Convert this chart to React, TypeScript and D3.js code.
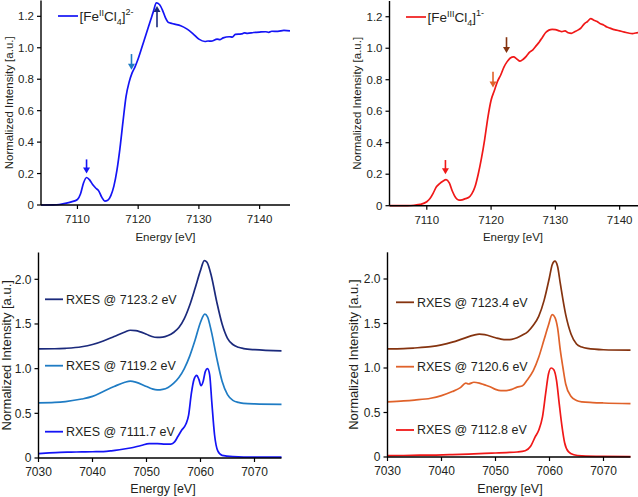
import React from "react";
import * as d3 from "d3";

// ---------- DATA ----------
// Top-left: Fe(II)Cl4 2- XAS  [energy eV, normalized intensity]
const feIIXas: [number, number][] = [
  [7104, 0], [7106, 0.001], [7107, 0.003], [7108, 0.01], [7109, 0.02], [7110, 0.035],
  [7110.5, 0.07], [7111, 0.14], [7111.5, 0.175], [7112, 0.16], [7112.5, 0.13],
  [7113, 0.108], [7113.5, 0.09], [7114, 0.05], [7114.5, 0.025], [7115, 0.03],
  [7115.5, 0.06], [7116, 0.12], [7116.5, 0.22], [7117, 0.36], [7117.5, 0.53],
  [7118, 0.69], [7118.5, 0.78], [7119, 0.84], [7119.5, 0.88], [7120, 0.93],
  [7121, 1.05], [7122, 1.17], [7122.5, 1.23], [7123, 1.285], [7123.5, 1.275],
  [7124, 1.24], [7124.5, 1.19], [7125, 1.16], [7125.5, 1.155], [7126, 1.15],
  [7127, 1.14], [7128, 1.12], [7129, 1.09], [7130, 1.055], [7131, 1.04],
  [7131.5, 1.043], [7132, 1.042], [7133, 1.055], [7133.5, 1.052], [7134, 1.063],
  [7135, 1.07], [7135.5, 1.068], [7136, 1.085], [7137, 1.088], [7137.5, 1.095],
  [7138, 1.092], [7139, 1.097], [7140, 1.1], [7141, 1.102], [7141.5, 1.098],
  [7142, 1.105], [7143, 1.104], [7144, 1.11], [7145, 1.108],
];

// Top-right: Fe(III)Cl4 1- XAS
const feIIIXas: [number, number][] = [
  [7104.2, 0], [7107, 0.001], [7108, 0.003], [7109, 0.008], [7110, 0.025],
  [7110.5, 0.045], [7111, 0.08], [7111.5, 0.12], [7112, 0.14], [7112.5, 0.155],
  [7113, 0.165], [7113.5, 0.145], [7114, 0.09], [7114.5, 0.05], [7115, 0.035],
  [7115.5, 0.037], [7116, 0.045], [7116.5, 0.052], [7117, 0.075], [7117.5, 0.12],
  [7118, 0.2], [7118.5, 0.3], [7119, 0.42], [7119.5, 0.56], [7120, 0.67],
  [7120.5, 0.73], [7121, 0.79], [7121.5, 0.83], [7122, 0.88], [7122.5, 0.915],
  [7123, 0.938], [7123.5, 0.945], [7124, 0.932], [7124.5, 0.918], [7125, 0.93],
  [7125.5, 0.95], [7126, 0.975], [7126.5, 0.99], [7127, 1.015], [7127.5, 1.04],
  [7128, 1.07], [7128.5, 1.1], [7129, 1.115], [7129.5, 1.12], [7130, 1.118],
  [7130.5, 1.112], [7131, 1.105], [7131.5, 1.11], [7132, 1.098], [7132.5, 1.095],
  [7133, 1.105], [7133.5, 1.115], [7134, 1.13], [7134.5, 1.155], [7135, 1.17],
  [7135.5, 1.188], [7136, 1.178], [7136.5, 1.17], [7137, 1.155], [7137.5, 1.148],
  [7138, 1.135], [7138.5, 1.128], [7139, 1.12], [7139.5, 1.115], [7140, 1.11],
  [7140.5, 1.105], [7141, 1.1], [7141.5, 1.095], [7142, 1.093], [7142.5, 1.097],
  [7143, 1.1], [7143.5, 1.096], [7144, 1.1], [7145, 1.1],
];

// Bottom-left RXES (Fe II)
const rxesII_7123_2: [number, number][] = [
  [7030, 1.222], [7033, 1.223], [7035, 1.228], [7038, 1.245], [7040, 1.27],
  [7042, 1.31], [7044, 1.36], [7046, 1.41], [7047, 1.43], [7048, 1.425],
  [7050, 1.385], [7051, 1.36], [7052, 1.35], [7053, 1.352], [7054, 1.37],
  [7055, 1.405], [7056, 1.46], [7057, 1.56], [7058, 1.71], [7059, 1.9],
  [7060, 2.1], [7060.7, 2.21], [7061.2, 2.19], [7062, 2.04], [7063, 1.75],
  [7064, 1.5], [7065, 1.34], [7066, 1.27], [7067, 1.24], [7068, 1.225],
  [7070, 1.212], [7075, 1.2],
];
const rxesII_7119_2: [number, number][] = [
  [7030, 0.617], [7033, 0.622], [7035, 0.632], [7038, 0.66], [7040, 0.69],
  [7042, 0.745], [7044, 0.8], [7046, 0.848], [7047, 0.86], [7048, 0.85],
  [7050, 0.8], [7051, 0.775], [7052, 0.762], [7053, 0.768], [7054, 0.79],
  [7055, 0.835], [7056, 0.9], [7057, 1.0], [7058, 1.14], [7059, 1.32],
  [7060, 1.52], [7060.8, 1.61], [7061.3, 1.58], [7062, 1.42], [7063, 1.12],
  [7064, 0.86], [7065, 0.71], [7066, 0.645], [7067, 0.622], [7068, 0.612],
  [7070, 0.605], [7075, 0.6],
];
const rxesII_7111_7: [number, number][] = [
  [7030, 0.05], [7032, 0.058], [7034, 0.064], [7036, 0.066], [7038, 0.068],
  [7040, 0.07], [7042, 0.072], [7043.5, 0.08], [7045, 0.092], [7047, 0.112],
  [7049, 0.14], [7050.5, 0.16], [7052, 0.162], [7053.5, 0.156], [7054.5, 0.156],
  [7055.2, 0.18], [7055.8, 0.24], [7056.5, 0.31], [7057.3, 0.38], [7057.8, 0.48],
  [7058.3, 0.72], [7058.8, 0.88], [7059.3, 0.925], [7059.7, 0.88], [7060.1, 0.81],
  [7060.5, 0.86], [7060.9, 0.97], [7061.3, 1.0], [7061.7, 0.93], [7062.1, 0.62],
  [7062.6, 0.26], [7063.2, 0.08], [7064, 0.03], [7066, 0.016], [7070, 0.01],
  [7075, 0.01],
];

// Bottom-right RXES (Fe III)
const rxesIII_7123_4: [number, number][] = [
  [7030, 1.215], [7033, 1.218], [7035, 1.225], [7038, 1.24], [7040, 1.26],
  [7042, 1.29], [7044, 1.33], [7046, 1.37], [7047, 1.38], [7048, 1.375],
  [7050, 1.34], [7051, 1.325], [7052, 1.318], [7053, 1.322], [7054, 1.34],
  [7055, 1.37], [7056, 1.41], [7057, 1.48], [7058, 1.58], [7059, 1.76],
  [7060, 2.02], [7060.5, 2.16], [7061, 2.2], [7061.5, 2.14], [7062, 1.95],
  [7063, 1.6], [7064, 1.38], [7065, 1.27], [7066, 1.235], [7067, 1.22],
  [7070, 1.205], [7075, 1.2],
];
const rxesIII_7120_6: [number, number][] = [
  [7030, 0.62], [7033, 0.63], [7035, 0.64], [7038, 0.66], [7040, 0.69],
  [7042, 0.735], [7043.5, 0.78], [7044.5, 0.83], [7045, 0.82], [7046, 0.84],
  [7047, 0.83], [7048, 0.81], [7049, 0.79], [7050, 0.76], [7051, 0.745],
  [7052, 0.745], [7053, 0.76], [7054, 0.785], [7055, 0.8], [7055.8, 0.86],
  [7057, 0.97], [7058, 1.12], [7059, 1.32], [7059.8, 1.48], [7060.5, 1.6],
  [7061, 1.57], [7061.5, 1.45], [7062, 1.2], [7062.5, 1.0], [7063, 0.82],
  [7064, 0.68], [7065, 0.635], [7066, 0.62], [7068, 0.612], [7070, 0.607],
  [7075, 0.6],
];
const rxesIII_7112_8: [number, number][] = [
  [7030, 0.015], [7033, 0.017], [7036, 0.02], [7039, 0.022], [7042, 0.027],
  [7045, 0.033], [7048, 0.04], [7050, 0.045], [7052, 0.05], [7054, 0.056],
  [7055.5, 0.07], [7056.5, 0.12], [7057.3, 0.22], [7058, 0.3], [7058.7, 0.45],
  [7059.3, 0.72], [7059.8, 0.93], [7060.3, 1.0], [7060.8, 0.98], [7061.3, 0.86],
  [7061.8, 0.6], [7062.3, 0.35], [7062.8, 0.16], [7063.5, 0.06], [7064.5, 0.025],
  [7066, 0.012], [7070, 0.006], [7075, 0.004],
];

// Arrows: [energy, tailValue, headValue, colour]
const feIIArrows: [number, number, number, string][] = [
  [7111.5, 0.29, 0.2, "#1414f5"],
  [7118.9, 0.96, 0.86, "#1f7cc4"],
  [7123.1, 1.13, 1.265, "#1b2a7c"],
];
const feIIIArrows: [number, number, number, string][] = [
  [7112.9, 0.29, 0.2, "#f01818"],
  [7120.3, 0.85, 0.75, "#e0622a"],
  [7122.4, 1.07, 0.97, "#85330f"],
];

const xasYTicks = [0, 0.2, 0.4, 0.6, 0.8, 1.0, 1.2];
const xasXTicks = [7110, 7120, 7130, 7140];
const rxesYTicks = [0, 0.5, 1.0, 1.5, 2.0];
const rxesXTicks = [7030, 7040, 7050, 7060, 7070];

const rxesIILabels = ["RXES @ 7123.2 eV", "RXES @ 7119.2 eV", "RXES @ 7111.7 eV"];
const rxesIIILabels = ["RXES @ 7123.4 eV", "RXES @ 7120.6 eV", "RXES @ 7112.8 eV"];

const FONT = "'Liberation Sans', Arial, Helvetica, sans-serif";
const TXT = "#231f20";

type Series = { data: [number, number][]; color: string };

interface PanelProps {
  xDomain: [number, number];
  xRange: [number, number];
  yDomain: [number, number];
  yRange: [number, number];
  xTicks: number[];
  yTicks: number[];
  series: Series[];
  yTitleX: number;
  xTitleX: number;
  xTitleY: number;
  titleSize: number;
  yTitleSize: number;
  tickSize: number;
  arrows?: [number, number, number, string][];
  children?: React.ReactNode;
}

const fmtY = (v: number) => (v === 0 ? "0" : v.toFixed(1));

function Panel(p: PanelProps) {
  const x = d3.scaleLinear().domain(p.xDomain).range(p.xRange);
  const y = d3.scaleLinear().domain(p.yDomain).range(p.yRange);
  const line = d3
    .line<[number, number]>()
    .x((d) => x(d[0]))
    .y((d) => y(d[1]))
    .curve(d3.curveMonotoneX);
  const x0 = p.xRange[0];
  const y0 = y(0);
  const yTop = p.yRange[1];
  const xEnd = p.xRange[1];
  const tl = 4;
  return (
    <g>
      {p.series.map((s, i) => (
        <path key={i} d={line(s.data) || ""} fill="none" stroke={s.color} strokeWidth={1.7} strokeLinejoin="round" />
      ))}
      {(p.arrows || []).map((a, i) => {
        const ax = x(a[0]);
        const t = y(a[1]);
        const h = y(a[2]);
        const dir = h > t ? 1 : -1;
        const hl = 6;
        return (
          <g key={i}>
            <line x1={ax} x2={ax} y1={t} y2={h - dir * hl * 0.6} stroke={a[3]} strokeWidth={1.6} />
            <path d={`M${ax - 3.5},${h - dir * hl} L${ax + 3.5},${h - dir * hl} L${ax},${h} Z`} fill={a[3]} />
          </g>
        );
      })}
      <line x1={x0} x2={x0} y1={yTop} y2={y0} stroke="#000" strokeWidth={1.4} />
      <line x1={x0} x2={xEnd} y1={y0} y2={y0} stroke="#000" strokeWidth={1.4} />
      {p.yTicks.map((t) => (
        <g key={"y" + t}>
          <line x1={x0 - tl} x2={x0} y1={y(t)} y2={y(t)} stroke="#000" strokeWidth={1.2} />
          <text x={x0 - 7} y={y(t)} dy="0.35em" textAnchor="end" fontSize={p.tickSize} fill={TXT} fontFamily={FONT}>
            {fmtY(t)}
          </text>
        </g>
      ))}
      {p.xTicks.map((t) => (
        <g key={"x" + t}>
          <line x1={x(t)} x2={x(t)} y1={y0} y2={y0 + tl} stroke="#000" strokeWidth={1.2} />
          <text x={x(t)} y={y0 + 18} textAnchor="middle" fontSize={p.tickSize} fill={TXT} fontFamily={FONT}>
            {t}
          </text>
        </g>
      ))}
      <text x={p.xTitleX} y={p.xTitleY} textAnchor="middle" fontSize={p.titleSize} fill={TXT} fontFamily={FONT}>
        Energy [eV]
      </text>
      <text
        transform={`translate(${p.yTitleX},${(yTop + y0) / 2}) rotate(-90)`}
        textAnchor="middle"
        dy="0.35em"
        fontSize={p.yTitleSize}
        fill={TXT}
        fontFamily={FONT}
      >
        Normalized Intensity [a.u.]
      </text>
      {p.children}
    </g>
  );
}

function XasLegend({ x, y, color, ox, charge }: { x: number; y: number; color: string; ox: string; charge: string }) {
  return (
    <g>
      <line x1={x} x2={x + 20} y1={y} y2={y} stroke={color} strokeWidth={1.7} />
      <text x={x + 21.5} y={y} dy="0.38em" fontSize={13.5} fill={TXT} fontFamily={FONT}>
        <tspan>[Fe</tspan>
        <tspan fontSize={9} dy={-5.5}>{ox}</tspan>
        <tspan dy={5.5}>Cl</tspan>
        <tspan fontSize={9} dy={4}>4</tspan>
        <tspan dy={-4}>]</tspan>
        <tspan fontSize={9} dy={-6}>{charge}</tspan>
      </text>
    </g>
  );
}

function RxesLegend({ x, ys, colors, labels }: { x: number; ys: number[]; colors: string[]; labels: string[] }) {
  return (
    <g>
      {labels.map((l, i) => (
        <g key={i}>
          <line x1={x} x2={x + 18} y1={ys[i]} y2={ys[i]} stroke={colors[i]} strokeWidth={1.8} />
          <text x={x + 21} y={ys[i]} dy="0.35em" fontSize={12.5} fill={TXT} fontFamily={FONT}>
            {l}
          </text>
        </g>
      ))}
    </g>
  );
}

export default function App() {
  const blue = "#1414f5";
  const midBlue = "#1f7cc4";
  const navy = "#1b2a7c";
  const red = "#f01818";
  const orange = "#e0622a";
  const brown = "#85330f";
  return (
    <svg
      width={638}
      height={497}
      viewBox="0 0 638 497"
      style={{ position: "absolute", left: 0, top: 0, background: "#fff", overflow: "hidden" }}
    >
      <Panel
        xDomain={[7104, 7145]}
        xRange={[41, 290]}
        yDomain={[0, 1.3]}
        yRange={[205, 0.6]}
        xTicks={xasXTicks}
        yTicks={xasYTicks}
        series={[{ data: feIIXas, color: blue }]}
        yTitleX={9}
        xTitleX={165.5}
        xTitleY={241}
        titleSize={11.5}
        yTitleSize={11.5}
        tickSize={11.5}
        arrows={feIIArrows}
      >
        <XasLegend x={58} y={16} color={blue} ox="II" charge="2-" />
      </Panel>
      <Panel
        xDomain={[7104.2, 7145]}
        xRange={[389.5, 651.8]}
        yDomain={[0, 1.3]}
        yRange={[205.7, 1]}
        xTicks={xasXTicks}
        yTicks={xasYTicks}
        series={[{ data: feIIIXas, color: red }]}
        yTitleX={357}
        xTitleX={513}
        xTitleY={241}
        titleSize={11.5}
        yTitleSize={11.5}
        tickSize={11.5}
        arrows={feIIIArrows}
      >
        <XasLegend x={406} y={17} color={red} ox="III" charge="1-" />
      </Panel>
      <Panel
        xDomain={[7030, 7075]}
        xRange={[38.5, 281.5]}
        yDomain={[0, 2.3]}
        yRange={[458, 252.5]}
        xTicks={rxesXTicks}
        yTicks={rxesYTicks}
        series={[
          { data: rxesII_7123_2, color: navy },
          { data: rxesII_7119_2, color: midBlue },
          { data: rxesII_7111_7, color: blue },
        ]}
        yTitleX={6}
        xTitleX={163}
        xTitleY={493}
        titleSize={12.5}
        yTitleSize={13}
        tickSize={12}
      >
        <RxesLegend x={45} ys={[299.3, 365.7, 431.7]} colors={[navy, midBlue, blue]} labels={rxesIILabels} />
      </Panel>
      <Panel
        xDomain={[7030, 7075]}
        xRange={[387.5, 630.5]}
        yDomain={[0, 2.3]}
        yRange={[457, 252.3]}
        xTicks={rxesXTicks}
        yTicks={rxesYTicks}
        series={[
          { data: rxesIII_7123_4, color: brown },
          { data: rxesIII_7120_6, color: orange },
          { data: rxesIII_7112_8, color: red },
        ]}
        yTitleX={353}
        xTitleX={510}
        xTitleY={493}
        titleSize={12.5}
        yTitleSize={13}
        tickSize={12}
      >
        <RxesLegend x={396} ys={[302.3, 366.7, 430]} colors={[brown, orange, red]} labels={rxesIIILabels} />
      </Panel>
    </svg>
  );
}
